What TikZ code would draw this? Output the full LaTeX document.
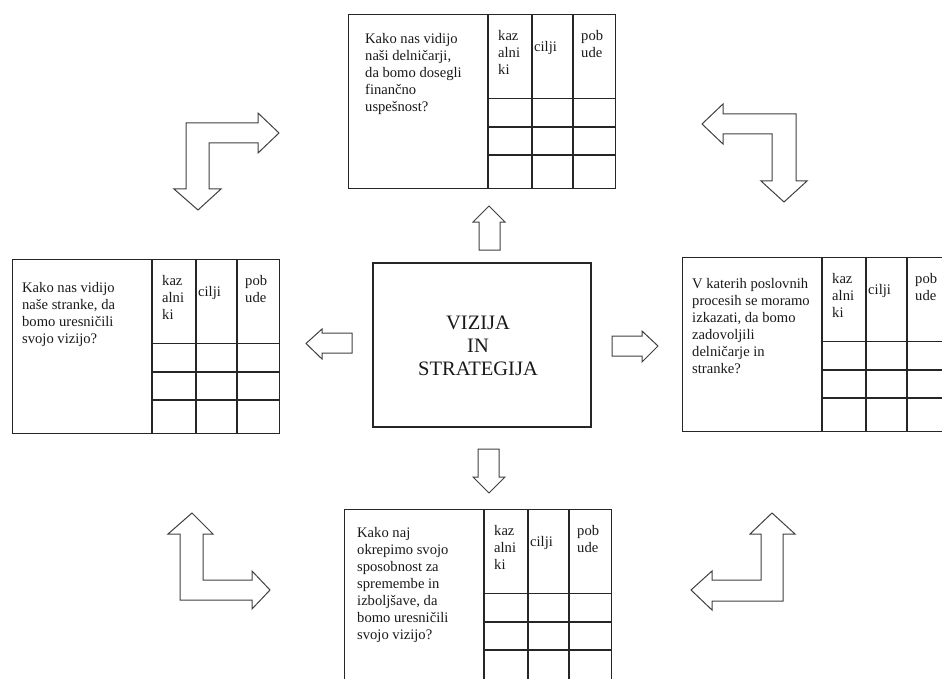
\documentclass[tikz,border=0pt]{standalone}
\usepackage{fontspec}
\setmainfont{Liberation Serif}
\begin{document}
\begin{tikzpicture}[x=1pt,y=-1pt,
  frameline/.style={draw=black!85, line width=1.3pt},
  gridline/.style={draw=black!85, line width=1.2pt},
  blockarrow/.style={draw=black!75, line width=1pt, fill=white, line join=miter},
  paneltext/.style={font=\fontsize{14.6}{17}\selectfont, align=left, inner sep=0pt,
    anchor=north west, text=black!90},
  % one perspective panel: question on the left, three-column table on the right
  pics/panel/.style n args={3}{code={
    \node[frameline, minimum width=267pt, minimum height=174pt, inner sep=0pt,
      anchor=north west] (-frame) at (0,0) {};
    \draw[gridline] (140,0) -- (140,175) (184,0) -- (184,175) (225,0) -- (225,175);
    \draw[gridline] (140,84.5) -- (267,84.5) (140,113) -- (267,113) (139,141) -- (267,141);
    \node[paneltext] (-question) at (#2,#3) {#1};
    \node[paneltext] (-kazalniki) at (150,16) {kaz\\alni\\ki};
    \node[paneltext] (-cilji) at (186,27) {cilji};
    \node[paneltext] (-pobude) at (233,16) {pob\\ude};
  }},
]
\useasboundingbox (0,0) rectangle (942,679);
\clip (0,0) rectangle (942,679);

% centre: vision and strategy
\node[frameline, minimum width=218pt, minimum height=164pt, inner sep=0pt] (vizija) at (482,345) {};
\node[font=\fontsize{20.5}{23.2}\selectfont, align=center, inner sep=0pt, text=black!90]
  (vizijalabel) at (478,346) {VIZIJA\\IN\\STRATEGIJA};

% the four perspectives
\pic (financna) at (348,14) {panel={Kako nas vidijo\\naši delničarji,\\da bomo dosegli\\finančno\\uspešnost?}{17}{19.5}};
\pic (stranke) at (12,259) {panel={Kako nas vidijo\\naše stranke, da\\bomo uresničili\\svojo vizijo?}{10}{23}};
\pic (procesi) at (682,257) {panel={V katerih poslovnih\\procesih se moramo\\izkazati, da bomo\\zadovoljili\\delničarje in\\stranke?}{10}{21}};
\pic (razvoj) at (344,509) {panel={Kako naj\\okrepimo svojo\\sposobnost za\\spremembe in\\izboljšave, da\\bomo uresničili\\svojo vizijo?}{13}{18}};

% straight block arrows out of the centre
\draw[blockarrow] (479,250) -- (479,222) -- (473,222) -- (489,206) -- (505,222) -- (500,222) -- (500,250) -- cycle;
\draw[blockarrow] (352,333) -- (322,333) -- (322,329) -- (306,343.5) -- (322,359) -- (322,353) -- (352,353) -- cycle;
\draw[blockarrow] (612,336) -- (642,336) -- (642,331) -- (658,346) -- (642,362) -- (642,356) -- (612,356) -- cycle;
\draw[blockarrow] (478,449) -- (478,477) -- (473,477) -- (489,493) -- (505,477) -- (499,477) -- (499,449) -- cycle;

% bent block arrows linking neighbouring perspectives
\draw[blockarrow] (186,189) -- (186,123) -- (258,123) -- (258,113) -- (279,133) -- (258,153) -- (258,143)
  -- (209,143) -- (209,189) -- (221,189) -- (198,210) -- (174,189) -- cycle;
\draw[blockarrow] (796,181) -- (796,114) -- (723,114) -- (723,104) -- (702,124) -- (723,144) -- (723,134)
  -- (772,134) -- (772,181) -- (761,181) -- (784,202) -- (807,181) -- cycle;
\draw[blockarrow] (180,534) -- (168,534) -- (192,513) -- (213,534) -- (203,534) -- (203,580) -- (252,580)
  -- (252,571) -- (270,590) -- (252,609) -- (252,600) -- (180,600) -- cycle;
\draw[blockarrow] (783,534) -- (795,534) -- (772,513) -- (750,534) -- (761,534) -- (761,580) -- (712,580)
  -- (712,571) -- (691,590) -- (712,610) -- (712,601) -- (783,601) -- cycle;
\end{tikzpicture}
\end{document}
